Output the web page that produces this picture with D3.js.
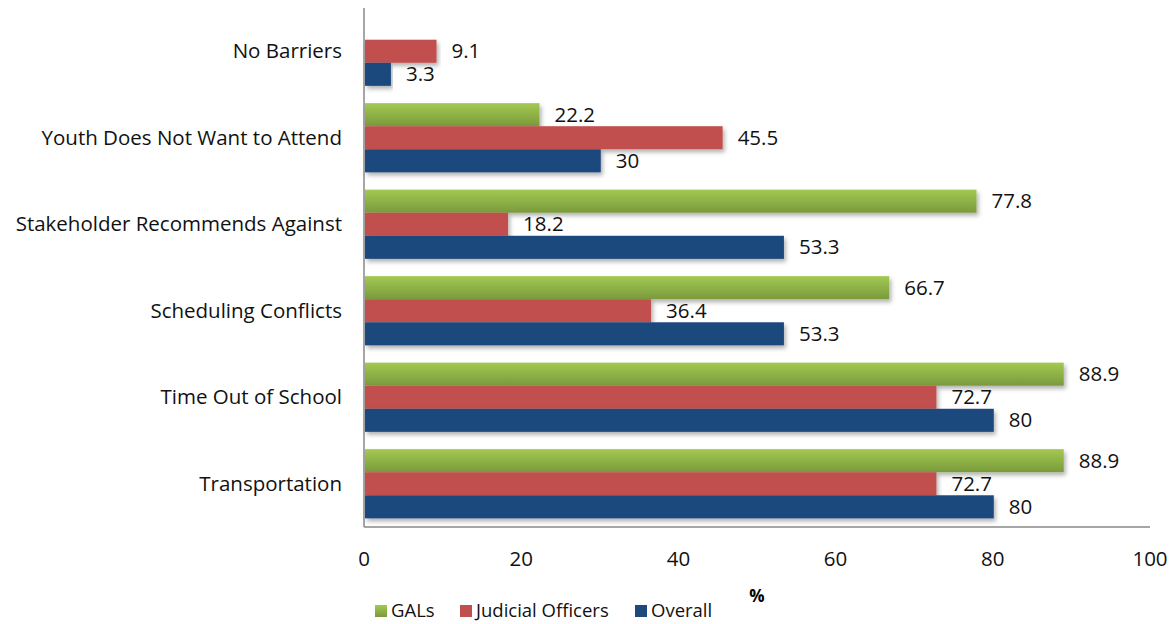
<!DOCTYPE html>
<html>
<head>
<meta charset="utf-8">
<script src="https://cdn.jsdelivr.net/npm/d3@7"></script>
<style>
  body { margin: 0; background: #fff; }
  svg { font-family: "Open Sans", "Noto Sans", sans-serif; }
</style>
</head>
<body>
<svg id="chart" width="1176" height="624"></svg>
<script>
// categories top to bottom
const categories = ["No Barriers", "Youth Does Not Want to Attend", "Stakeholder Recommends Against",
    "Scheduling Conflicts", "Time Out of School", "Transportation"];
const gals = [null, 22.2, 77.8, 66.7, 88.9, 88.9];
const judicial = [9.1, 45.5, 18.2, 36.4, 72.7, 72.7];
const overall = [3.3, 30, 53.3, 53.3, 80, 80];
const seriesNames = ["GALs", "Judicial Officers", "Overall"];
const xTicks = [0, 20, 40, 60, 80, 100];

const colors = ["#9bbb59", "#c0504d", "#1f497d"];
const series = [gals, judicial, overall];

const svg = d3.select("#chart");
const plotL = 364, plotR = 1150, plotT = 8, plotB = 527;
const fs = 20.5;

const defs = svg.append("defs");
const grad = defs.append("linearGradient").attr("id", "gGreen")
    .attr("x1", 0).attr("y1", 0).attr("x2", 0).attr("y2", 1);
grad.append("stop").attr("offset", "0%").attr("stop-color", "#a3c951");
grad.append("stop").attr("offset", "100%").attr("stop-color", "#7a9a3c");
const shadow = defs.append("filter").attr("id", "shadow")
    .attr("x", "-5%").attr("y", "-20%").attr("width", "110%").attr("height", "160%");
shadow.append("feDropShadow").attr("dx", 2).attr("dy", 3).attr("stdDeviation", 2)
    .attr("flood-color", "#000").attr("flood-opacity", 0.3);

const x = d3.scaleLinear().domain([0, 100]).range([plotL, plotR]);
const y = d3.scaleBand().domain(categories).range([plotT, plotB]).paddingInner(0.2).paddingOuter(0.1);
const sub = d3.scaleBand().domain(d3.range(3)).range([0, y.bandwidth()]);

// axes lines
svg.append("line").attr("x1", plotL).attr("x2", plotL).attr("y1", plotT).attr("y2", plotB)
    .attr("stroke", "#888").attr("stroke-width", 1.5);
svg.append("line").attr("x1", plotL).attr("x2", plotR).attr("y1", plotB).attr("y2", plotB)
    .attr("stroke", "#888").attr("stroke-width", 1.5);

// category labels
svg.append("g").selectAll("text").data(categories).join("text")
    .attr("x", plotL - 22)
    .attr("y", d => y(d) + y.bandwidth() / 2)
    .attr("dy", "0.35em")
    .attr("text-anchor", "end")
    .attr("font-size", fs)
    .attr("fill", "#111")
    .text(d => d);

// bars
series.forEach((vals, si) => {
    const g = svg.append("g");
    const rows = categories.map((c, i) => ({c, v: vals[i]})).filter(d => d.v != null);
    g.selectAll("rect").data(rows).join("rect")
        .attr("x", x(0) + 1)
        .attr("y", d => y(d.c) + sub(si))
        .attr("width", d => x(d.v) - x(0))
        .attr("height", sub.bandwidth())
        .attr("fill", si === 0 ? "url(#gGreen)" : colors[si])
        .attr("filter", "url(#shadow)");
    g.selectAll("text").data(rows).join("text")
        .attr("x", d => x(d.v) + 16)
        .attr("y", d => y(d.c) + sub(si) + sub.bandwidth() / 2)
        .attr("dy", "0.35em")
        .attr("font-size", fs)
        .attr("fill", "#111")
        .text(d => d.v);
});

// x tick labels
svg.append("g").selectAll("text").data(xTicks).join("text")
    .attr("x", d => x(d))
    .attr("y", 559)
    .attr("dy", "0.35em")
    .attr("text-anchor", "middle")
    .attr("font-size", fs)
    .attr("fill", "#111")
    .text(d => d);

svg.append("text").attr("x", 757).attr("y", 596).attr("dy", "0.35em")
    .attr("text-anchor", "middle").attr("font-size", 17).attr("font-weight", "bold")
    .text("%");

// legend
const legendX = [375, 460, 635];
const lg = svg.append("g").selectAll("g").data(seriesNames).join("g")
    .attr("transform", (d, i) => `translate(${legendX[i]},611)`);
lg.append("rect").attr("x", 0).attr("y", -6).attr("width", 12).attr("height", 12)
    .attr("fill", (d, i) => i === 0 ? "url(#gGreen)" : colors[i]);
lg.append("text").attr("x", 16).attr("dy", "0.35em").attr("font-size", 18.5)
    .attr("fill", "#111").text(d => d);
</script>
</body>
</html>
